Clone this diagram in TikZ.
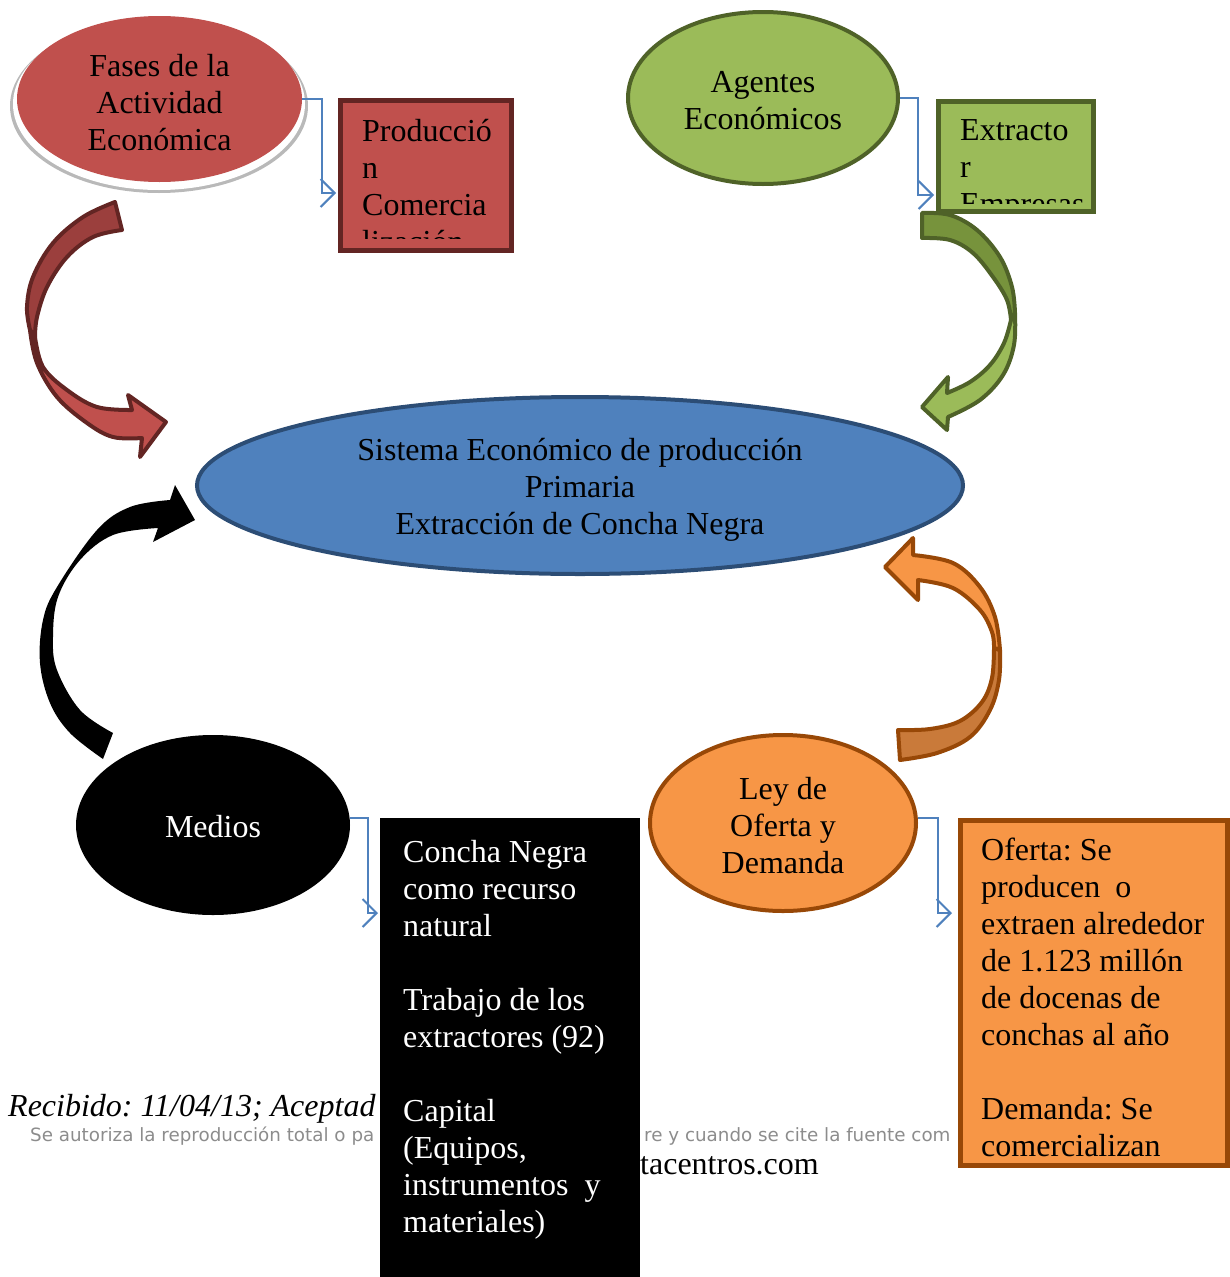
\documentclass[tikz,border=0pt]{standalone}
\usepackage{fontspec}
\setmainfont{Liberation Serif}
\newfontfamily\footfont{DejaVu Sans}
\usetikzlibrary{shapes.geometric,arrows.meta}
\definecolor{redfill}{HTML}{C0504D}
\definecolor{redline}{HTML}{632523}
\definecolor{reddark}{HTML}{9B3F3D}
\definecolor{grnfill}{HTML}{9BBB59}
\definecolor{grnline}{HTML}{4F6228}
\definecolor{grndark}{HTML}{77933C}
\definecolor{bluefill}{HTML}{4F81BD}
\definecolor{blueline}{HTML}{2C4D75}
\definecolor{orgfill}{HTML}{F79646}
\definecolor{orgline}{HTML}{984807}
\definecolor{orgdark}{HTML}{C97A3A}
\definecolor{connc}{HTML}{4F81BD}
\definecolor{footgray}{HTML}{8C8C8C}
\begin{document}
\frenchspacing
\begin{tikzpicture}[x=1pt,y=-1pt,
  bigtext/.style={font=\fontsize{32}{37}\selectfont},
  oval/.style={ellipse, inner sep=0pt},
  ovaltext/.style={inner sep=0pt, align=center, bigtext},
  boxshape/.style={rectangle, inner sep=0pt, line width=5pt},
  boxtext/.style={anchor=base west, inner sep=0pt, text width=260pt, align=flush left, bigtext},
  conn/.style={draw=connc, line width=1.8pt, -{Straight Barb[length=14pt,width=28pt,line width=2pt]}},
  curvy/.style={line width=4pt, line join=round},
  foottext/.style={anchor=base west, inner sep=0pt, font=\footfont\fontsize{18.3}{22}\selectfont, text=footgray},
  smoothpl/.style={smooth, tension=0.6}]
\useasboundingbox (0,0) rectangle (1230,1277);

% footer text (partly hidden by boxes)
\node[anchor=base west, inner sep=0pt, font=\fontsize{32}{37}\selectfont\itshape] (recib) at (8,1116) {Recibido: 11/04/13; Aceptad};
\node[foottext] (aut1) at (30,1141) {Se autoriza la reproducción total o pa};
\node[foottext] (aut2) at (644,1141) {re y cuando se cite la fuente com};
\node[anchor=base west, inner sep=0pt, bigtext] (web) at (640,1174) {tacentros.com};

% top-left ellipse with reflection
\node[oval, fill=gray!55, minimum width=298pt, minimum height=174pt] (fshadow) at (159,106) {};
\node[oval, fill=white, minimum width=292pt, minimum height=172pt] (fwhite) at (159,104) {};
\node[oval, fill=redfill, minimum width=285pt, minimum height=166pt] (fases) at (159.5,99) {};
\node[ovaltext] (fasestxt) at ([yshift=-4pt]fases.center) {Fases de la\\Actividad\\Económica};

% top-right ellipse
\node[oval, fill=grnfill, draw=grnline, line width=4pt, minimum width=270pt, minimum height=172pt] (agentes) at (763,98) {};
\node[ovaltext] (agentestxt) at ([yshift=-3pt]agentes.center) {Agentes\\Económicos};

% central ellipse
\node[oval, fill=bluefill, draw=blueline, line width=4pt, minimum width=766pt, minimum height=177pt] (sistema) at (580,485.5) {};
\node[ovaltext] (sistematxt) at ([yshift=-4.5pt]sistema.center) {Sistema Económico de producción\\Primaria\\Extracción de Concha Negra};

% bottom ellipses
\node[oval, fill=black, minimum width=274pt, minimum height=180pt] (medios) at (213,825) {};
\node[ovaltext, text=white] (mediostxt) at ([yshift=-1.5pt]medios.center) {Medios};
\node[oval, fill=orgfill, draw=orgline, line width=4pt, minimum width=266pt, minimum height=176pt] (ley) at (783,823) {};
\node[ovaltext] (leytxt) at ([yshift=-3pt]ley.center) {Ley de\\Oferta y\\Demanda};

% boxes
\node[boxshape, fill=redfill, draw=redline, minimum width=171pt, minimum height=150pt] (prodbox) at (426,175.5) {};
\begin{scope}
  \clip (343,103) rectangle (509,238);
  \node[boxtext] (prodtxt) at (362,141) {Producció\\n\\Comercia\\lización};
\end{scope}

\node[boxshape, fill=grnfill, draw=grnline, minimum width=155pt, minimum height=110pt] (extrbox) at (1016,156.5) {};
\begin{scope}
  \clip (941,104) rectangle (1091,203);
  \node[boxtext] (extrtxt) at (960,140) {Extracto\\r\\Empresas};
\end{scope}

\node[rectangle, inner sep=0pt, fill=black, minimum width=260pt, minimum height=462pt] (medbox) at (510,1049) {};
\node[boxtext, text=white] (medtxt) at (403,862) {Concha Negra\\como recurso\\natural\\[37pt]Trabajo de los\\extractores (92)\\[37pt]Capital\\(Equipos,\\instrumentos\hspace{16pt}y\\materiales)};

\node[boxshape, fill=orgfill, draw=orgline, minimum width=267pt, minimum height=345pt] (ofbox) at (1094,993) {};
\node[boxtext] (oftxt) at (981,860) {Oferta: Se\\producen\hspace{15pt}o\\extraen alrededor\\de 1.123 millón\\de docenas de\\conchas al año\\[37pt]Demanda: Se\\comercializan};

% elbow connectors
\coordinate (prodin) at (336,193);
\coordinate (extrin) at (934,195);
\coordinate (medin) at (378,913);
\coordinate (ofin) at (952,913);
\draw[conn] (fases.east) -- ++(20,0) |- (prodin);
\draw[conn] (agentes.east) -- ++(18,0) |- (extrin);
\draw[conn] (medios.3) -- ++(18,0) |- (medin);
\draw[conn] (ley.2) -- ++(20,0) |- (ofin);

% red curved arrow
\filldraw[fill=reddark, draw=redline, curvy]
  plot[smoothpl] coordinates {(115,202) (83,217) (53,243) (33,277) (27,307) (30,330)}
  -- (35,337)
  -- plot[smoothpl] coordinates {(35,337) (37,317) (47,287) (67,257) (93,237) (122,230)}
  -- cycle;
\filldraw[fill=redfill, draw=redline, curvy]
  plot[smoothpl] coordinates {(30,330) (37,363) (57,397) (87,423) (113,437) (142,438)}
  -- (140,457) -- (166,422) -- (128,395) -- (132,410)
  -- plot[smoothpl] coordinates {(132,410) (97,407) (67,390) (43,367) (35,337)}
  -- cycle;

% green curved arrow
\filldraw[fill=grndark, draw=grnline, curvy]
  plot[smoothpl] coordinates {(922,213) (950,215) (977,230) (1000,257) (1012,287) (1015,313)}
  -- (1011,320)
  -- plot[smoothpl] coordinates {(1011,320) (1007,300) (993,277) (973,253) (950,240) (922,238)}
  -- cycle;
\filldraw[fill=grnfill, draw=grnline, curvy]
  plot[smoothpl] coordinates {(1015,313) (1014,345) (1003,375) (980,400) (948,417)}
  -- (947,430) -- (922,407) -- (948,377) -- (947,393)
  -- plot[smoothpl] coordinates {(947,393) (970,382) (990,365) (1004,343) (1011,320)}
  -- cycle;

% black curved arrow
\fill[black]
  plot[smoothpl] coordinates {(103,759) (70,733) (50,703) (40,663) (43,620) (57,587) (97,530) (130,507) (170,500)}
  -- (175,485) -- (195,520) -- (153,542) -- (158,528)
  -- plot[smoothpl] coordinates {(158,528) (113,535) (80,560) (58,597) (53,637) (57,670) (80,710) (113,733)}
  -- cycle;

% orange curved arrow
\filldraw[fill=orgdark, draw=orgline, curvy]
  plot[smoothpl] coordinates {(1000,650) (999,680) (990,710) (970,737) (937,753) (900,760)}
  -- (898,730)
  -- plot[smoothpl] coordinates {(898,730) (930,729) (960,721) (982,702) (992,678) (994,648)}
  -- cycle;
\filldraw[fill=orgfill, draw=orgline, curvy]
  plot[smoothpl] coordinates {(913,555) (953,563) (980,587) (995,617) (1000,650)}
  -- (994,648)
  -- plot[smoothpl] coordinates {(994,648) (992,632) (980,610) (953,588) (918,580)}
  -- (918,600) -- (885,567) -- (913,538) -- cycle;
\end{tikzpicture}
\end{document}
